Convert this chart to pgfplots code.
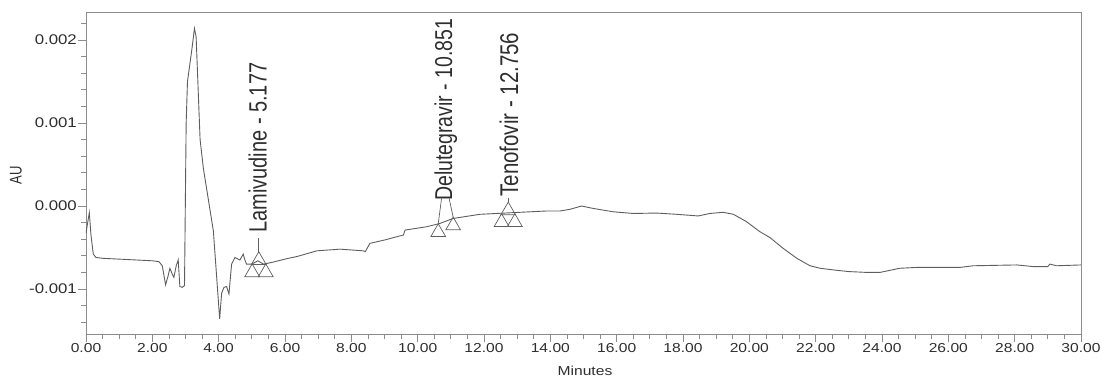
\documentclass[border=0pt]{standalone}
\usepackage{fontspec}
\setmainfont{Liberation Sans}
\newfontfamily\wide[FakeStretch=1.2]{Liberation Sans}
\usepackage{graphicx}
\usepackage{pgfplots}
\usepackage{pgfplotstable}
\pgfplotsset{compat=1.18}
\definecolor{trace}{HTML}{5E5E5E}
\definecolor{axcol}{HTML}{8C8C8C}
\definecolor{txt}{HTML}{2E2E2E}
\pgfplotstableread{
x y
0.00 -0.00033
0.05 -0.00020
0.10 -0.00008
0.15 -0.00035
0.22 -0.00058
0.30 -0.00062
0.50 -0.00063
1.00 -0.00064
1.50 -0.00065
2.00 -0.00066
2.20 -0.00067
2.30 -0.00072
2.40 -0.00095
2.47 -0.00085
2.53 -0.00075
2.60 -0.00082
2.65 -0.00086
2.72 -0.00072
2.78 -0.00065
2.83 -0.00097
2.90 -0.00098
2.97 -0.00096
3.02 0.00100
3.06 0.00150
3.19 0.00188
3.27 0.00214
3.32 0.00204
3.44 0.00080
3.54 0.00045
3.70 0.00005
3.84 -0.00030
4.03 -0.00136
4.09 -0.00105
4.16 -0.00098
4.24 -0.00097
4.31 -0.00106
4.39 -0.00070
4.49 -0.00062
4.64 -0.00065
4.74 -0.00058
4.79 -0.00065
4.84 -0.00070
5.00 -0.00070
5.18 -0.00066
5.35 -0.00070
5.60 -0.00068
6.10 -0.00063
6.35 -0.00061
6.96 -0.00054
7.66 -0.00052
8.36 -0.00054
8.42 -0.00055
8.56 -0.00045
9.00 -0.00041
9.37 -0.00037
9.57 -0.00035
9.62 -0.00029
10.27 -0.00025
10.67 -0.00021
11.07 -0.00015
11.88 -0.00010
12.88 -0.00008
13.89 -0.00006
14.29 -0.00006
14.59 -0.00004
14.94 0.00000
15.30 -0.00003
15.90 -0.00007
16.50 -0.00009
17.20 -0.000085
17.80 -0.00010
18.46 -0.00012
18.81 -0.00009
19.21 -0.000076
19.52 -0.00010
19.92 -0.00019
20.32 -0.00031
20.62 -0.00038
21.02 -0.00051
21.43 -0.00063
21.83 -0.00072
22.13 -0.00075
22.53 -0.00077
23.00 -0.00079
23.54 -0.00080
23.94 -0.00080
24.54 -0.00075
25.04 -0.00074
26.35 -0.00074
26.75 -0.00072
28.06 -0.00071
28.56 -0.00073
29.00 -0.00073
29.06 -0.00070
29.26 -0.00072
30.00 -0.00071
}\chrom
\begin{document}
\begin{tikzpicture}
\useasboundingbox (-86pt,-47pt) rectangle (1015pt,334pt);
\begin{axis}[
  at={(0pt,0pt)}, anchor=south west,
  scale only axis, width=995pt, height=322pt,
  xmin=0, xmax=30, ymin=-0.001542, ymax=0.002337,
  axis line style={axcol, line width=0.8pt},
  tick style={axcol, line width=0.8pt},
  tick align=outside, tick pos=left,
  major tick length=8pt, minor tick length=4.5pt,
  xtick={0,2,...,30},
  xticklabels={0.00,2.00,4.00,6.00,8.00,10.00,12.00,14.00,16.00,18.00,20.00,22.00,24.00,26.00,28.00,30.00},
  minor x tick num=3,
  ytick={-0.001,0,0.001,0.002},
  yticklabels={-0.001,0.000,0.001,0.002},
  minor ytick={-0.0014,-0.0012,-0.0008,-0.0006,-0.0004,-0.0002,0.0002,0.0004,0.0006,0.0008,0.0012,0.0014,0.0016,0.0018,0.0022},
  scaled y ticks=false,
  xticklabel style={font=\wide\fontsize{13}{15}\selectfont, text=txt, inner sep=1pt},
  yticklabel style={font=\wide\fontsize{14}{16}\selectfont, text=txt, inner sep=1pt},
]
\addplot[trace, line width=0.9pt] table[x=x, y=y] {\chrom};
% peak markers
\addplot[only marks, mark=triangle, mark size=8.5pt, mark options={trace, line width=0.7pt, fill=none}]
  coordinates {(5.01,-0.00080) (5.42,-0.00080) (5.21,-0.000653)
               (10.62,-0.000316) (11.07,-0.000236)
               (12.53,-0.000195) (12.93,-0.000195) (12.73,-0.000055)};
% leader lines
\addplot[trace, line width=0.7pt] coordinates {(5.19,-0.00055) (5.19,-0.000386)};
\addplot[trace, line width=0.7pt] coordinates {(10.62,-0.000214) (10.72,0.00009)};
\addplot[trace, line width=0.7pt] coordinates {(11.07,-0.000134) (10.95,0.00009)};
\addplot[trace, line width=0.7pt] coordinates {(12.73,0.000047) (12.73,0.00010)};
% peak labels
\node[rotate=90, anchor=west, inner sep=0pt, text=txt] at (axis cs:5.177,-0.000325)
  {\scalebox{1}[1.25]{\fontsize{20}{22}\selectfont Lamivudine - 5.177}};
\node[rotate=90, anchor=west, inner sep=0pt, text=txt] at (axis cs:10.851,0.00006)
  {\scalebox{1}[1.25]{\fontsize{19.5}{22}\selectfont Delutegravir - 10.851}};
\node[rotate=90, anchor=west, inner sep=0pt, text=txt] at (axis cs:12.756,0.00011)
  {\scalebox{1}[1.25]{\fontsize{20.5}{22}\selectfont Tenofovir - 12.756}};
\end{axis}
% axis titles (axis box spans (0,0)--(995pt,322pt))
\node[text=txt, font=\wide\fontsize{13}{15}\selectfont] at (499pt,-36.5pt) {Minutes};
\node[text=txt, rotate=90] at (-70pt,159pt)
  {\scalebox{1}[1.3]{\fontsize{13}{15}\selectfont AU}};
\end{tikzpicture}
\end{document}
